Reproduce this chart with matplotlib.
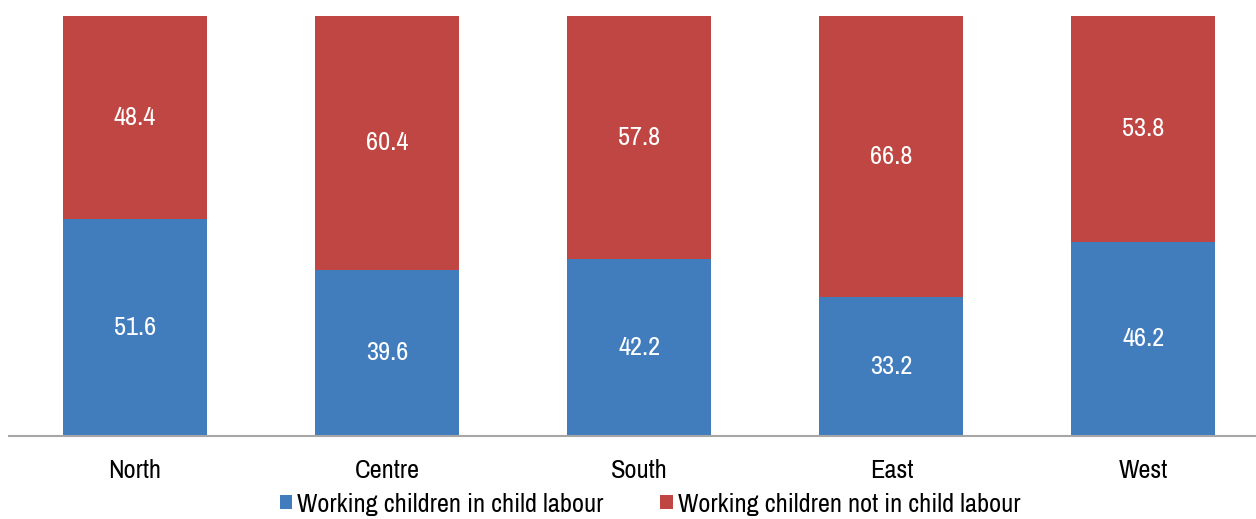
import numpy as np
import matplotlib.pyplot as plt
from matplotlib import font_manager

regions = ['North', 'Centre', 'South', 'East', 'West']
in_labour = [51.6, 39.6, 42.2, 33.2, 46.2]
not_in_labour = [48.4, 60.4, 57.8, 66.8, 53.8]
series_names = ['Working children in child labour', 'Working children not in child labour']

blue = '#417DBD'
red = '#C04643'

# look for a narrow / condensed sans (source used Arial Narrow)
fam = None
stretch = 'normal'
for f in font_manager.fontManager.ttflist:
    n = f.name
    if ('Narrow' in n or 'Condensed' in n) and 'Mono' not in n and 'Serif' not in n:
        fam = n
        break
if fam is None:
    for f in font_manager.fontManager.ttflist:
        if f.stretch in ('condensed', 'semi-condensed', 'extra-condensed') and 'Mono' not in f.name \
                and 'Serif' not in f.name and f.weight in (400, 'normal', 'regular'):
            fam = f.name
            stretch = f.stretch
            break
if fam is None:
    fam = 'Liberation Sans'
    fs = 16
else:
    fs = 19
plt.rcParams['font.family'] = [fam, 'DejaVu Sans']
plt.rcParams['font.stretch'] = stretch

fig = plt.figure(figsize=(12.56, 5.19), dpi=100)
# axes runs a bit past the right edge, like the source
ax = fig.add_axes([9 / 1256, 83 / 519, 1260.5 / 1256, 420 / 519])

x = np.arange(len(regions))
w = 0.571
b1 = ax.bar(x, in_labour, w, color=blue, label=series_names[0])
b2 = ax.bar(x, not_in_labour, w, bottom=in_labour, color=red, label=series_names[1])

for i in range(len(regions)):
    ax.text(x[i], in_labour[i] / 2, f'{in_labour[i]:.1f}', ha='center', va='center',
            color='white', fontsize=fs)
    ax.text(x[i], in_labour[i] + not_in_labour[i] / 2, f'{not_in_labour[i]:.1f}',
            ha='center', va='center', color='white', fontsize=fs)

ax.set_xlim(-0.5, len(regions) - 0.5)
ax.set_ylim(0, 100)
ax.set_xticks(x)
ax.set_xticklabels(regions, fontsize=fs)
ax.tick_params(axis='x', length=0, pad=16.5)
ax.set_yticks([])
for s in ['top', 'right', 'left']:
    ax.spines[s].set_visible(False)
ax.spines['bottom'].set_color('#A6A6A6')
ax.spines['bottom'].set_linewidth(1.5)

fig.legend(handles=[b1, b2], loc='center', bbox_to_anchor=(650 / 1256, 15 / 519), ncol=2,
           frameon=False, fontsize=fs, handlelength=0.46, handleheight=0.46,
           handletextpad=0.19, columnspacing=2.16, borderpad=0)

fig.savefig('out.png', dpi=100)
